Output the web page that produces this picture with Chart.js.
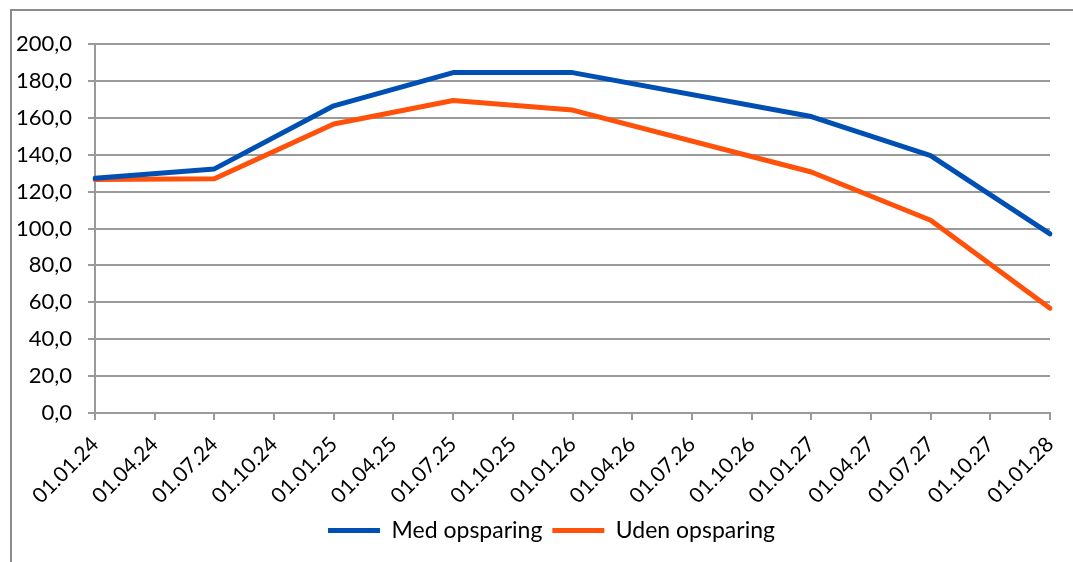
<!DOCTYPE html>
<html lang="da">
<head>
  <meta charset="UTF-8">
  <title>Med og uden opsparing</title>
  <script src="https://cdn.jsdelivr.net/npm/chart.js"></script>
  <style>
    html, body {
      margin: 0;
      padding: 0;
      background-color: #fff;
      overflow: hidden;
    }
    .wrap {
      position: relative;
      width: 1073px;
      height: 562px;
    }
    .frame {
      position: absolute;
      left: 10px;
      top: 9px;
      width: 1200px;
      height: 700px;
      border: 2px solid #8c8c8c;
    }
    canvas {
      position: absolute;
      left: 0;
      top: 0;
    }
  </style>
</head>
<body>
  <div class="wrap">
    <div class="frame"></div>
    <canvas id="chart" width="1073" height="562"></canvas>
  </div>

  <script>
    // kvartalsdatoer på x-aksen
    const labels = ['01.01.24', '01.04.24', '01.07.24', '01.10.24', '01.01.25', '01.04.25',
      '01.07.25', '01.10.25', '01.01.26', '01.04.26', '01.07.26', '01.10.26',
      '01.01.27', '01.04.27', '01.07.27', '01.10.27', '01.01.28'];

    // (null = intet punkt)
    const medOpsparing = [127.2, null, 132.3, null, 166.5, null, 184.5, null, 184.5,
      null, null, null, 160.7, null, 139.5, null, 97.1];
    const udenOpsparing = [126.5, null, 127.0, null, 156.6, null, 169.4, null, 164.2,
      null, null, null, 130.6, null, 104.5, null, 56.8];

    const font = "Lato, 'Open Sans', sans-serif";
    const gridColor = '#9a9a9a';

    new Chart(document.getElementById('chart'), {
      type: 'line',
      data: {
        labels: labels,
        datasets: [
          {
            label: 'Med opsparing',
            data: medOpsparing,
            borderColor: '#0050b4',
            backgroundColor: '#0050b4',
            borderWidth: 5,
            borderCapStyle: 'round',
            borderJoinStyle: 'round',
            pointRadius: 0,
            pointStyle: 'line',
            tension: 0,
            spanGaps: true
          },
          {
            label: 'Uden opsparing',
            data: udenOpsparing,
            borderColor: '#ff5109',
            backgroundColor: '#ff5109',
            borderWidth: 5,
            borderCapStyle: 'round',
            borderJoinStyle: 'round',
            pointRadius: 0,
            pointStyle: 'line',
            tension: 0,
            spanGaps: true
          }
        ]
      },
      options: {
        responsive: false,
        animation: false,
        layout: {
          // negativ højre padding skubber legenden lidt mod højre,
          // x-aksens paddingRight holder plotområdet på plads
          padding: { left: 0, right: -30, top: 44, bottom: 10 }
        },
        plugins: {
          tooltip: { enabled: false },
          legend: {
            position: 'bottom',
            labels: {
              usePointStyle: true,
              pointStyleWidth: 52,
              color: '#000',
              padding: 10,
              font: { family: font, size: 23 }
            }
          }
        },
        scales: {
          x: {
            offset: false,
            grid: {
              drawOnChartArea: false,
              drawTicks: true,
              tickLength: 7,
              color: gridColor,
              lineWidth: 2
            },
            border: { display: true, color: gridColor, width: 2 },
            ticks: {
              autoSkip: false,
              minRotation: 45,
              maxRotation: 45,
              padding: 12,
              color: '#000',
              font: { family: font, size: 21 }
            },
            afterFit: function (scale) {
              scale.height = 96;
              scale.paddingLeft = 0;
              scale.paddingRight = 23;
            }
          },
          y: {
            min: 0,
            max: 200,
            grid: {
              color: gridColor,
              lineWidth: 2,
              drawTicks: true,
              tickLength: 7
            },
            border: { display: true, color: gridColor, width: 2 },
            ticks: {
              stepSize: 20,
              padding: 16,
              color: '#000',
              font: { family: font, size: 22 },
              callback: function (v) { return v.toFixed(1).replace('.', ','); }
            },
            afterFit: function (scale) { scale.width = 95; }
          }
        }
      }
    });
  </script>
</body>
</html>
